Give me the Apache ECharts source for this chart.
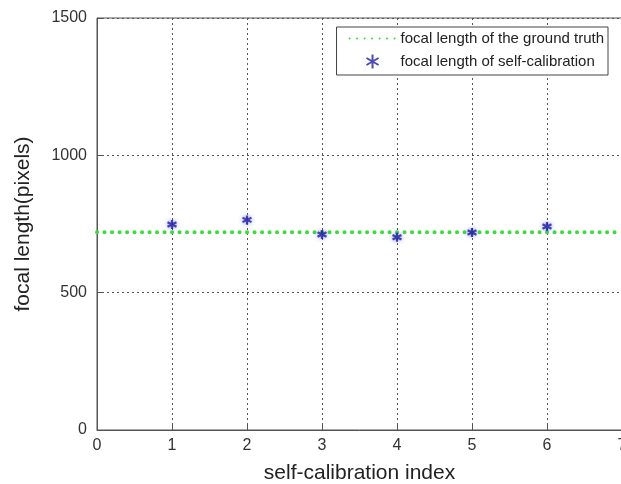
<!DOCTYPE html>
<html>
<head>
<meta charset="utf-8">
<script src="https://cdn.jsdelivr.net/npm/echarts@6/dist/echarts.min.js"></script>
<style>html,body{margin:0;padding:0;background:#fff;overflow:hidden;}#c{width:621px;height:484px;}</style>
</head>
<body>
<div id="c"></div>
<script>
var indices = [1, 2, 3, 4, 5, 6];
var selfCalib = [748, 765, 712, 702, 719, 741];
var groundTruth = 720;
var xRange = [0, 7];
var yTicks = [0, 500, 1000, 1500];

var chart = echarts.init(document.getElementById('c'));
var font = 'Arial, "Liberation Sans", sans-serif';
chart.setOption({
  animation: false,
  textStyle: { fontFamily: font },
  grid: { left: 97, top: 18, width: 525, height: 412, show: true, borderColor: '#555', borderWidth: 1, outerBoundsMode: 'none', containLabel: false },
  legend: {
    orient: 'vertical', right: 13, top: 27,
    backgroundColor: '#fff', borderColor: '#444', borderWidth: 1,
    padding: [4, 4, 4, 12], itemGap: 6, itemWidth: 46, itemHeight: 14,
    textStyle: { fontSize: 15, color: '#222', fontFamily: font },
    data: [
      { name: 'focal length of the ground truth', itemStyle: { color: 'transparent', borderWidth: 0 } },
      { name: 'focal length of self-calibration' }
    ]
  },
  xAxis: {
    type: 'value', min: xRange[0], max: xRange[1], interval: 1,
    name: 'self-calibration index', nameLocation: 'middle', nameGap: 33,
    nameTextStyle: { fontSize: 21, color: '#222' },
    axisLine: { lineStyle: { color: '#555' } },
    axisTick: { inside: true, length: 5, lineStyle: { color: '#555' } },
    axisLabel: { fontSize: 16, color: '#333', margin: 8 },
    splitLine: { show: true, lineStyle: { color: '#555', type: [2, 3] } }
  },
  yAxis: {
    type: 'value', min: yTicks[0], max: yTicks[yTicks.length - 1], interval: 500,
    name: 'focal length(pixels)', nameLocation: 'middle', nameGap: 63,
    nameTextStyle: { fontSize: 21, color: '#222' },
    axisLine: { lineStyle: { color: '#555' } },
    axisTick: { inside: true, length: 5, lineStyle: { color: '#555' } },
    axisLabel: { fontSize: 16, color: '#333', margin: 10, formatter: function (v) { return String(v); } },
    splitLine: { show: true, lineStyle: { color: '#555', type: [2, 3] } }
  },
  series: [
    {
      name: 'focal length of the ground truth', type: 'line', symbol: 'none',
      data: [[xRange[0], groundTruth], [xRange[1], groundTruth]],
      lineStyle: { color: '#3ddc3d', width: 4, type: [0.1, 7.4], cap: 'round' },
      itemStyle: { color: '#3ddc3d' }, z: 3
    },
    {
      name: 'focal length of self-calibration', type: 'scatter',
      data: indices.map(function (x, i) { return [x, selfCalib[i]]; }),
      symbol: 'path://M0,-5L0,5M-4.33,-2.5L4.33,2.5M-4.33,2.5L4.33,-2.5',
      symbolSize: 9,
      itemStyle: { color: 'none', borderColor: '#1e1ea0', borderWidth: 2.2, shadowBlur: 4, shadowColor: 'rgba(60,60,210,0.7)' },
      z: 4
    }
  ]
});
</script>
</body>
</html>
